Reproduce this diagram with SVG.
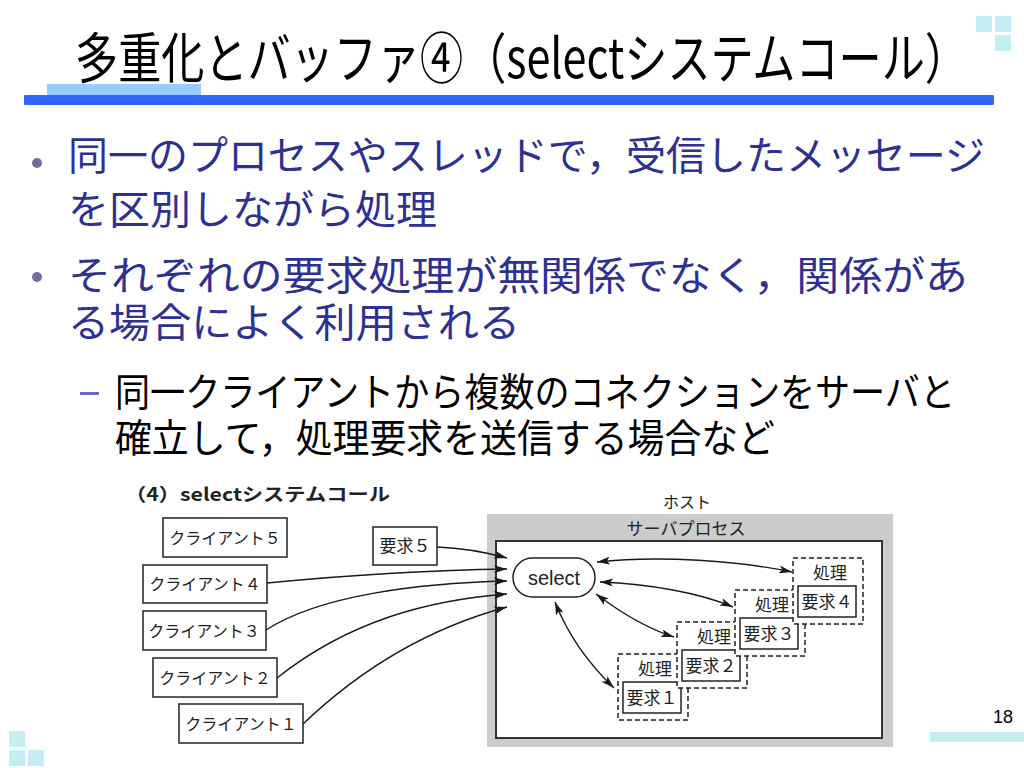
<svg xmlns="http://www.w3.org/2000/svg" width="1024" height="768" viewBox="0 0 1024 768">
<defs>
<style>
.title{font-family:"Noto Sans CJK JP","Liberation Sans",sans-serif;font-size:42px;fill:#000}
.body{font-family:"Noto Sans CJK JP","Liberation Sans",sans-serif;font-size:40px;fill:#2e3192}
.sub{font-family:"Noto Sans CJK JP","Liberation Sans",sans-serif;font-size:35px;fill:#000}
.lbl{font-family:"Noto Sans CJK JP","Liberation Sans",sans-serif;font-size:16px;fill:#222}
.lbl17{font-family:"Noto Sans CJK JP","Liberation Sans",sans-serif;font-size:17px;fill:#222}
.box{fill:#fff;stroke:#222;stroke-width:1.5}
.dash{fill:#fff;stroke:#222;stroke-width:1.5;stroke-dasharray:5 3}
.deco{fill:#c4eef4}
.conn path{fill:none;stroke:#1a1a1a;stroke-width:1.4}
</style>
<marker id="ah" viewBox="0 0 13 8" refX="13" refY="4" markerWidth="13" markerHeight="8" markerUnits="userSpaceOnUse" orient="auto-start-reverse">
<path d="M0,0 L13,4 L0,8 L3,4 z" fill="#1a1a1a"/>
</marker>
</defs>
<rect width="1024" height="768" fill="#fff"/>

<g id="decor">
<rect class="deco" x="976" y="16" width="16" height="16"/>
<rect class="deco" x="995" y="16" width="16" height="16"/>
<rect class="deco" x="995" y="35" width="16" height="16"/>
<rect class="deco" x="9" y="731" width="16" height="16"/>
<rect class="deco" x="9" y="750" width="16" height="16"/>
<rect class="deco" x="28" y="750" width="16" height="16"/>
<rect class="deco" x="930" y="732" width="94" height="10"/>
<rect x="47" y="84" width="154" height="11" fill="#99ccff"/>
<rect x="24" y="95" width="970" height="10" fill="#3366ff" rx="1"/>
</g>

<g id="title">
<text class="title" transform="translate(75,78) scale(1,1.3)" x="0" y="0" textLength="893" lengthAdjust="spacingAndGlyphs">多重化とバッファ④（selectシステムコール）</text>
</g>

<g id="bullets">
<circle cx="37" cy="163" r="5" fill="#6f6f9f"/>
<text class="body" x="68" y="170" textLength="917" lengthAdjust="spacingAndGlyphs">同一のプロセスやスレッドで，受信したメッセージ</text>
<text class="body" x="68" y="224" textLength="369" lengthAdjust="spacingAndGlyphs">を区別しながら処理</text>
<circle cx="37" cy="277" r="5" fill="#6f6f9f"/>
<text class="body" x="68" y="290" textLength="900" lengthAdjust="spacingAndGlyphs">それぞれの要求処理が無関係でなく，関係があ</text>
<text class="body" x="68" y="337" textLength="452" lengthAdjust="spacingAndGlyphs">る場合によく利用される</text>
<rect x="80" y="392" width="19" height="3" fill="#6666cc"/>
<text class="sub" transform="translate(115,406) scale(1,1.12)" x="0" y="0" textLength="840" lengthAdjust="spacingAndGlyphs">同一クライアントから複数のコネクションをサーバと</text>
<text class="sub" transform="translate(115,452) scale(1,1.12)" x="0" y="0" textLength="660" lengthAdjust="spacingAndGlyphs">確立して，処理要求を送信する場合など</text>
</g>

<g id="pagenum">
<text x="993" y="723" font-family="Liberation Sans, Arial, sans-serif" font-size="18" fill="#000">18</text>
</g>

<g id="diagram-title">
<text x="125" y="501" font-family="Noto Sans CJK JP, Liberation Sans, sans-serif" font-size="18" font-weight="bold" fill="#222" textLength="265" lengthAdjust="spacingAndGlyphs">（4）selectシステムコール</text>
</g>

<g id="client5"><rect class="box" x="163" y="518" width="124" height="39"/><text class="lbl" x="225" y="544" text-anchor="middle">クライアント５</text></g>
<g id="client4"><rect class="box" x="143" y="565" width="124" height="38"/><text class="lbl" x="205" y="590" text-anchor="middle">クライアント４</text></g>
<g id="client3"><rect class="box" x="143" y="611" width="123" height="39"/><text class="lbl" x="204" y="637" text-anchor="middle">クライアント３</text></g>
<g id="client2"><rect class="box" x="153" y="658" width="124" height="39"/><text class="lbl" x="215" y="684" text-anchor="middle">クライアント２</text></g>
<g id="client1"><rect class="box" x="179" y="704" width="124" height="39"/><text class="lbl" x="241" y="730" text-anchor="middle">クライアント１</text></g>
<g id="req5"><rect class="box" x="373" y="527" width="64" height="38"/><text class="lbl17" x="405" y="552" text-anchor="middle">要求５</text></g>

<g id="host">
<rect x="487" y="514" width="406" height="233" fill="#cccccc"/>
<text class="lbl" x="687" y="508" text-anchor="middle">ホスト</text>
</g>
<g id="server-process">
<rect x="496" y="541" width="386" height="197" fill="#fff" stroke="#333" stroke-width="2"/>
<text class="lbl17" x="686" y="535" text-anchor="middle">サーバプロセス</text>
</g>

<g id="select">
<rect class="box" x="513" y="558" width="82" height="39" rx="19.5"/>
<text x="554" y="585" text-anchor="middle" font-family="Liberation Sans, Arial, sans-serif" font-size="20" fill="#222">select</text>
</g>

<g id="proc1">
<rect class="dash" x="618" y="654" width="70" height="66"/>
<text class="lbl17" x="655" y="675" text-anchor="middle">処理</text>
<rect class="box" x="623" y="682" width="58" height="31"/>
<text class="lbl17" x="652" y="704" text-anchor="middle">要求１</text>
</g>
<g id="proc2">
<rect class="dash" x="677" y="622" width="70" height="66"/>
<text class="lbl17" x="714" y="643" text-anchor="middle">処理</text>
<rect class="box" x="682" y="650" width="58" height="31"/>
<text class="lbl17" x="711" y="672" text-anchor="middle">要求２</text>
</g>
<g id="proc3">
<rect class="dash" x="735" y="590" width="70" height="66"/>
<text class="lbl17" x="772" y="611" text-anchor="middle">処理</text>
<rect class="box" x="740" y="618" width="58" height="31"/>
<text class="lbl17" x="769" y="640" text-anchor="middle">要求３</text>
</g>
<g id="proc4">
<rect class="dash" x="793" y="558" width="70" height="66"/>
<text class="lbl17" x="830" y="579" text-anchor="middle">処理</text>
<rect class="box" x="798" y="586" width="58" height="31"/>
<text class="lbl17" x="827" y="608" text-anchor="middle">要求４</text>
</g>

<g id="connectors" class="conn">
<path d="M437,547 C465,548 485,552 507,558" marker-end="url(#ah)"/>
<path d="M267,583 C350,575 430,570 507,569" marker-end="url(#ah)"/>
<path d="M266,630 C320,595 420,583 507,581" marker-end="url(#ah)"/>
<path d="M277,678 C350,620 430,600 507,594" marker-end="url(#ah)"/>
<path d="M303,724 C370,660 440,625 507,607" marker-end="url(#ah)"/>
<path d="M597,562 C660,555 740,561 792,572" marker-start="url(#ah)" marker-end="url(#ah)"/>
<path d="M600,582 C650,584 700,593 733,607" marker-start="url(#ah)" marker-end="url(#ah)"/>
<path d="M596,594 C620,612 645,628 674,637" marker-start="url(#ah)" marker-end="url(#ah)"/>
<path d="M555,602 C568,635 590,665 614,688" marker-start="url(#ah)" marker-end="url(#ah)"/>
</g>
</svg>
